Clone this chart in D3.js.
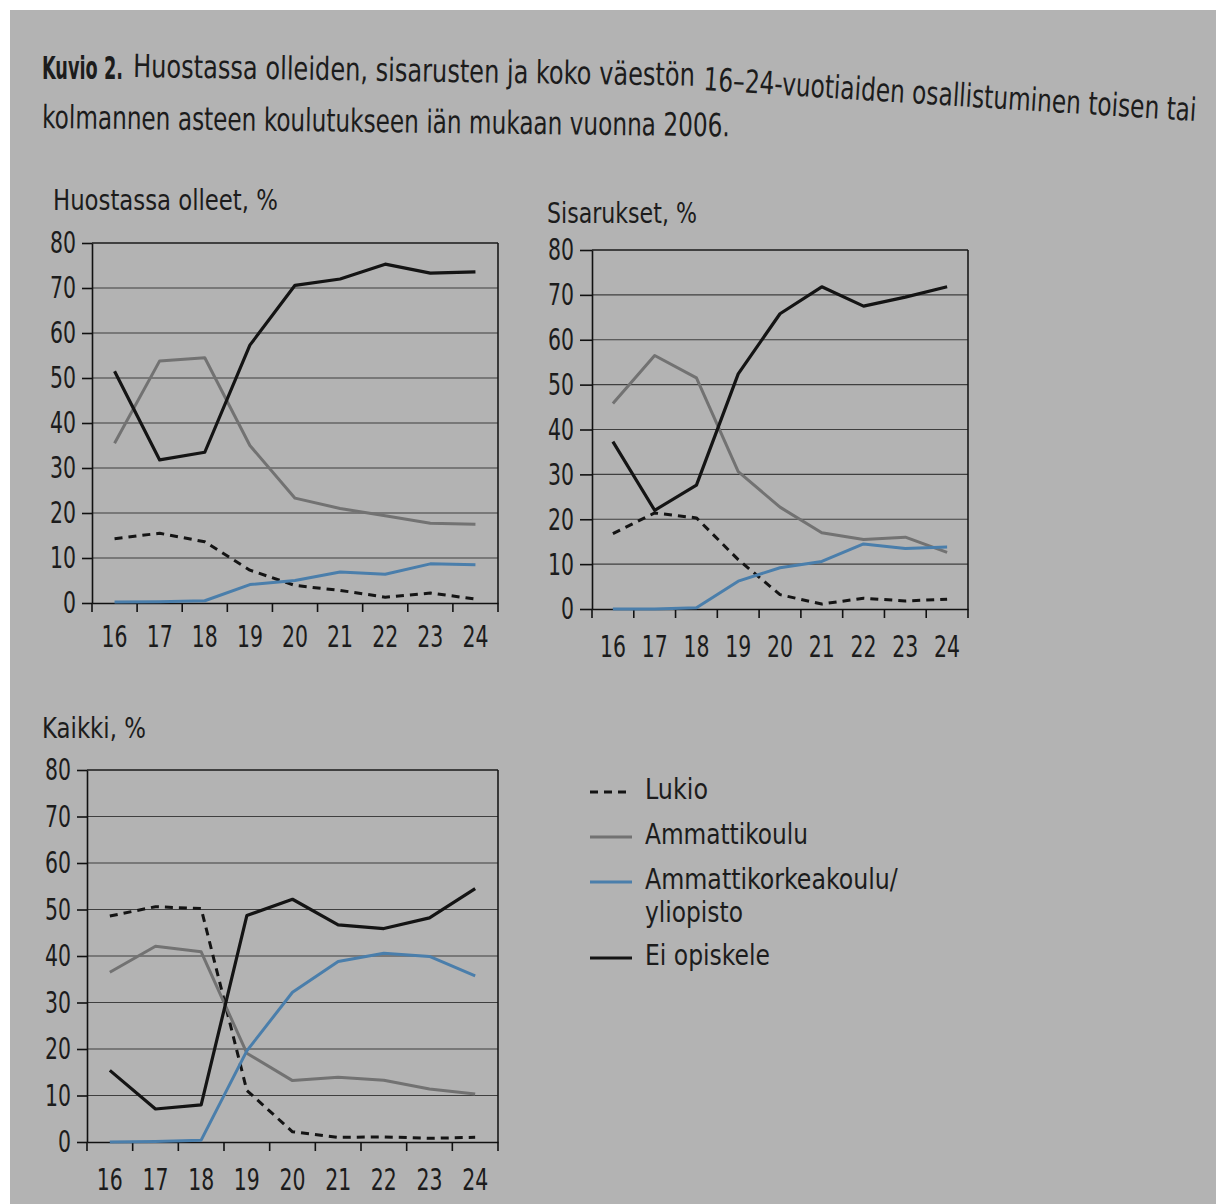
<!DOCTYPE html>
<html><head><meta charset="utf-8">
<script src="https://cdn.jsdelivr.net/npm/d3@7"></script>
<style>
html,body{margin:0;padding:0;background:#fff;}
svg{display:block;}
text{font-family:"Liberation Sans Narrow","DejaVu Sans Condensed","Roboto","Liberation Sans",sans-serif;fill:#1c1c1c;}
</style></head><body>
<svg id="c" width="1216" height="1204"></svg>
<script>
// ---------- data ----------
const ages = ["16","17","18","19","20","21","22","23","24"];
const yTicks = [0,10,20,30,40,50,60,70,80];
const seriesNames = ["Lukio","Ammattikoulu","Ammattikorkeakoulu/","Ei opiskele"];
const seriesNameExtra = "yliopisto";

const huostaLukio = [14.3,15.5,13.6,7.3,3.9,2.8,1.3,2.2,0.9];
const huostaAmm   = [35.5,53.8,54.5,35.0,23.3,21.0,19.4,17.7,17.5];
const huostaAmk   = [0.2,0.3,0.5,4.1,5.0,6.9,6.4,8.7,8.5];
const huostaEi    = [51.5,31.8,33.5,57.3,70.6,72.0,75.3,73.3,73.6];

const sisarLukio = [16.8,21.4,20.3,11.0,3.2,1.1,2.4,1.8,2.2];
const sisarAmm   = [45.8,56.5,51.5,30.6,22.7,17.0,15.5,16.0,12.6];
const sisarAmk   = [0.0,0.0,0.3,6.2,9.2,10.6,14.5,13.5,13.8];
const sisarEi    = [37.3,22.0,27.6,52.4,65.8,71.8,67.5,69.5,71.8];

const kaikkiLukio = [48.6,50.6,50.2,11.1,2.2,1.0,1.1,0.8,1.0];
const kaikkiAmm   = [36.5,42.1,40.9,19.1,13.2,13.9,13.3,11.4,10.3];
const kaikkiAmk   = [0.0,0.1,0.4,19.6,32.2,38.8,40.6,39.9,35.7];
const kaikkiEi    = [15.4,7.1,8.0,48.7,52.2,46.7,45.9,48.2,54.5];

const panelTitles = ["Huostassa olleet, %","Sisarukset, %","Kaikki, %"];
const titleBold = "Kuvio 2.";
const titleLine1a = "Huostassa olleiden, sisarusten ja koko väestön";
const titleLine1b = "16–24-vuotiaiden osallistuminen toisen tai";
const titleLine2 = "kolmannen asteen koulutukseen iän mukaan vuonna 2006.";

// ---------- styles ----------
const seriesStyle = [
  {color:"#141414", width:3, dash:"8,6"},
  {color:"#727272", width:3, dash:null},
  {color:"#4a7eab", width:3, dash:null},
  {color:"#141414", width:3.2, dash:null}
];

const svg = d3.select("#c");
svg.append("rect").attr("width",1216).attr("height",1204).attr("fill","#ffffff");
svg.append("rect").attr("x",10).attr("y",10).attr("width",1206).attr("height",1194).attr("fill","#b3b3b3");

// text placed at (x,y), horizontally scaled to a target width (condensed look)
function placeText(parent, str, x, y, size, width, angle, weight){
  const t = parent.append("text").attr("font-size",size).attr("font-weight",weight||"normal").text(str);
  const len = t.node().getComputedTextLength();
  const sx = width/len;
  t.attr("transform",`translate(${x},${y}) rotate(${angle||0}) scale(${sx},1)`);
  return t;
}
function condense(sel, perChar){
  sel.each(function(){
    const t = d3.select(this);
    const len = this.getComputedTextLength();
    const sx = (this.textContent.length*perChar)/len;
    const x = +t.attr("x") || 0;
    t.attr("x",0).attr("transform",`translate(${x},0) scale(${sx},1)`);
  });
}

// ---------- title ----------
placeText(svg, titleBold, 42, 79, 32, 81, 0, "bold");
placeText(svg, titleLine1a, 133, 77, 32, 562, 0.9);
placeText(svg, titleLine1b, 703, 90, 32, 494, 3.6);
placeText(svg, titleLine2, 42, 128, 32, 688, 0.7);

// ---------- panels ----------
const panels = [
  {title:panelTitles[0], data:[huostaLukio,huostaAmm,huostaAmk,huostaEi],
   x0:92, x1:498, y0:603, y1:243, tx:53, ty:210, tw:225, xlY:647, tick:10},
  {title:panelTitles[1], data:[sisarLukio,sisarAmm,sisarAmk,sisarEi],
   x0:592, x1:968, y0:609, y1:250, tx:547, ty:223, tw:150, xlY:657, tick:12},
  {title:panelTitles[2], data:[kaikkiLukio,kaikkiAmm,kaikkiAmk,kaikkiEi],
   x0:87, x1:498, y0:1142, y1:770, tx:42, ty:738, tw:104, xlY:1190, tick:10}
];
const fontStack = '"Liberation Sans Narrow","DejaVu Sans Condensed","Roboto","Liberation Sans",sans-serif';

panels.forEach(p => {
  const g = svg.append("g");
  const x = d3.scaleBand().domain(ages).range([p.x0, p.x1]);
  const y = d3.scaleLinear().domain([0,80]).range([p.y0, p.y1]);

  placeText(g, p.title, p.tx, p.ty, 28, p.tw, 0);

  // gridlines
  g.append("g").selectAll("line").data(yTicks.filter(v => v>0 && v<80)).join("line")
    .attr("x1",p.x0).attr("x2",p.x1).attr("y1",d=>y(d)).attr("y2",d=>y(d))
    .attr("stroke","#3f3f3f").attr("stroke-width",1.2);

  // frame top + right
  g.append("line").attr("x1",p.x0).attr("x2",p.x1).attr("y1",y(80)).attr("y2",y(80))
    .attr("stroke","#1a1a1a").attr("stroke-width",1.6);
  g.append("line").attr("x1",p.x1).attr("x2",p.x1).attr("y1",y(80)).attr("y2",y(0))
    .attr("stroke","#1a1a1a").attr("stroke-width",1.6);

  // y axis
  const ya = g.append("g").attr("transform",`translate(${p.x0},0)`)
    .call(d3.axisLeft(y).tickValues(yTicks).tickSize(p.tick).tickPadding(6).tickSizeOuter(0));
  ya.selectAll("path,line").attr("stroke","#111").attr("stroke-width",1.6);
  ya.selectAll("text").attr("font-size",31).attr("fill","#1c1c1c").style("font-family",fontStack);
  condense(ya.selectAll("text"), 13);

  // x axis: labels at band centres, ticks at band boundaries
  const xa = g.append("g").attr("transform",`translate(0,${p.y0})`)
    .call(d3.axisBottom(x).tickSize(0).tickPadding(0).tickSizeOuter(0));
  xa.select("path").attr("stroke","#111").attr("stroke-width",1.6);
  xa.selectAll("text").attr("font-size",31).attr("fill","#1c1c1c").attr("dy",null)
    .attr("y", p.xlY - p.y0).style("font-family",fontStack);
  condense(xa.selectAll("text"), 13);
  const bounds = ages.map(a => x(a)).concat([x(ages[ages.length-1]) + x.bandwidth()]);
  xa.selectAll("line.bt").data(bounds).join("line").attr("class","bt")
    .attr("x1",d=>d).attr("x2",d=>d).attr("y1",0).attr("y2",9)
    .attr("stroke","#111").attr("stroke-width",1.6);

  // lines
  const line = d3.line().x((d,i) => x(ages[i]) + x.bandwidth()/2).y(d => y(d));
  p.data.forEach((s,k) => {
    const st = seriesStyle[k];
    g.append("path").datum(s).attr("d",line).attr("fill","none")
      .attr("stroke",st.color).attr("stroke-width",st.width)
      .attr("stroke-linejoin","round")
      .attr("stroke-dasharray",st.dash);
  });
});

// ---------- legend ----------
const legendRows = [
  {lineY:792, textY:799, tw:63},
  {lineY:837, textY:844, tw:163},
  {lineY:882, textY:889, tw:253},
  {lineY:958, textY:965, tw:125}
];
const lg = svg.append("g");
seriesNames.forEach((name,k) => {
  const r = legendRows[k], st = seriesStyle[k];
  lg.append("line").attr("x1",590).attr("x2",k===0?628:632).attr("y1",r.lineY).attr("y2",r.lineY)
    .attr("stroke",st.color).attr("stroke-width",st.width).attr("stroke-dasharray",st.dash);
  placeText(lg, name, 645, r.textY, 29, r.tw, 0);
});
placeText(lg, seriesNameExtra, 645, 922, 29, 98, 0);
</script>
</body></html>
